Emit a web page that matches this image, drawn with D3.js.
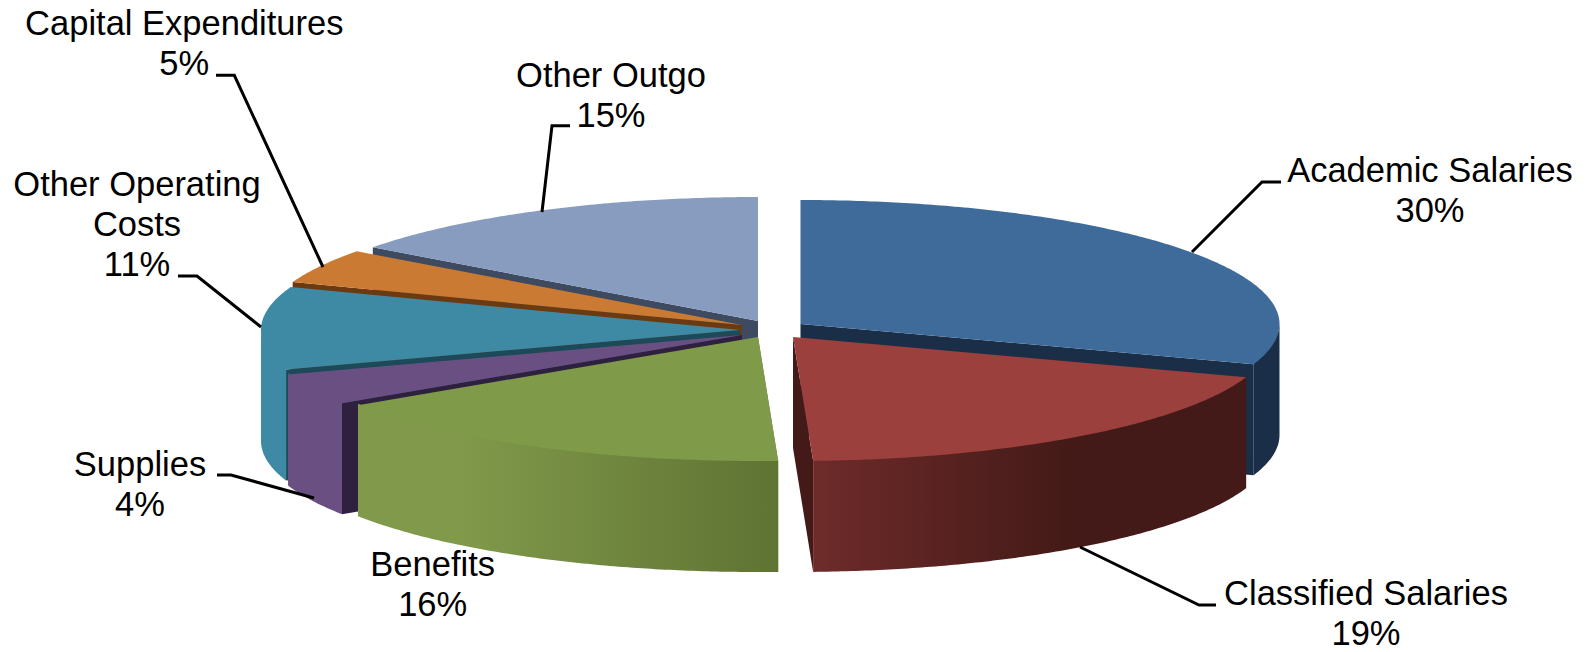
<!DOCTYPE html>
<html><head><meta charset="utf-8">
<script src="https://cdn.jsdelivr.net/npm/d3@7"></script>
<style>html,body{margin:0;padding:0;background:#fff}svg{display:block}text{font-family:"Liberation Sans",Arial,sans-serif;font-size:34.5px;fill:#000}</style>
</head><body><svg id="c" width="1589" height="652"></svg>
<script>
const categories=["Academic Salaries","Classified Salaries","Benefits","Supplies","Other Operating Costs","Capital Expenditures","Other Outgo"];
const values=[30.25,19.08,16.4,4.1,10.8,4.5,14.87];
const percentLabels=["30%","19%","16%","4%","11%","5%","15%"];
const topColors=["#3f6b9b","#9c403d","#7f9b4a","#6a5082","#3e8aa4","#cb7a33","#879cbf"];
const wallLeft=["#1a2f47","#6e2b2a","#80994a","#6a5082","#3e8aa4","#cb7a33","#879cbf"];
const wallRight=["#1a2f47","#431a17","#5f7333","#6a5082","#3e8aa4","#cb7a33","#879cbf"];
const faceColors=["#1a2f47","#431a17","#5f7333","#2f2040","#1c4a58","#6b3a10","#3d4a60"];
const centers=[[800.5,324],[793,337],[758,337],[742,335],[740,330],[742,325],[758,321]];
const labelLines=[["Academic Salaries"],["Classified Salaries"],["Benefits"],["Supplies"],["Other Operating","Costs"],["Capital Expenditures"],["Other Outgo"]];
const labelPos=[[1430,181.7],[1366,605],[432.7,576],[140,476],[137,195.7],[184.3,34.5],[611,87]];
const leaders=[[[1192,252],[1262,182],[1281,182]],[[1080,547],[1199,605],[1216,605]],[],[[314,498],[231,475],[217,475]],[[261,327],[197,276],[178,276]],[[323,267],[234.3,75.3],[216,75.3]],[[542,212],[552,125.7],[570,125.7]]];
const rx=479,ry=124,depth=111,lineStep=40.2;
const svg=d3.select("#c");
const arcs=d3.pie().sort(null).value(d=>d)(values);
const X=d3.scaleLinear().domain([-1,1]).range([-rx,rx]);
const Y=d3.scaleLinear().domain([-1,1]).range([-ry,ry]);
const pt=(i,t)=>[centers[i][0]+X(Math.sin(t)),centers[i][1]-Y(Math.cos(t))];
const line=d3.line();
function arcPts(i,a0,a1){const n=Math.max(2,Math.ceil(Math.abs(a1-a0)/0.01));return d3.range(n+1).map(k=>pt(i,a0+(a1-a0)*k/n));}
const defs=svg.append("defs");
const drawOrder=[6,5,4,3,0,1,2];
const down=p=>[p[0],p[1]+depth];
drawOrder.forEach(i=>{
 const a=arcs[i],g=svg.append("g").attr("class","slice").datum(categories[i]),c=centers[i],a0=a.startAngle,a1=a.endAngle;
 const p0=pt(i,a0),p1=pt(i,a1);
 // cut face: the trailing edge on the right half of the pie, the leading edge on the left half
 const edge=(i===0||i===1)?p1:p0;
 g.append("path").attr("d",line([c,down(c),down(edge),edge])+"Z").attr("fill",faceColors[i]);
 // outer wall: only the part of the rim that faces the viewer
 const wFrom=Math.max(a0,Math.PI/2),wTo=Math.min(a1,Math.PI*1.5);
 if(wTo>wFrom){
  const w=arcPts(i,wFrom,wTo);
  const xs=d3.extent(w,q=>q[0]);
  const grad=defs.append("linearGradient").attr("id","g"+i).attr("gradientUnits","userSpaceOnUse")
    .attr("x1",xs[0]).attr("x2",xs[1]).attr("y1",0).attr("y2",0);
  const stops=i===1?[0,.6]:i===2?[.25,1]:[0,1];
  grad.append("stop").attr("offset",stops[0]).attr("stop-color",wallLeft[i]);
  grad.append("stop").attr("offset",stops[1]).attr("stop-color",wallRight[i]);
  // the wall reaches slightly under the top surface so the shared edge shows no seam
  const rim=w.map(q=>[q[0],q[1]-1.5]);
  g.append("path").attr("d",line(rim.concat(w.map(down).reverse()))+"Z").attr("fill",`url(#g${i})`);
 }
 g.append("path").attr("d",line([c].concat(arcPts(i,a0,a1)))+"Z").attr("fill",topColors[i]);
});
leaders.forEach(l=>{if(l.length)svg.append("path").attr("d",line(l)).attr("fill","none").attr("stroke","#000").attr("stroke-width",3);});
labelLines.forEach((l,i)=>{const t=svg.append("text").attr("text-anchor","middle");
 [...l,percentLabels[i]].forEach((s,k)=>t.append("tspan").attr("x",labelPos[i][0]).attr("y",labelPos[i][1]+k*lineStep).text(s));});
</script></body></html>
